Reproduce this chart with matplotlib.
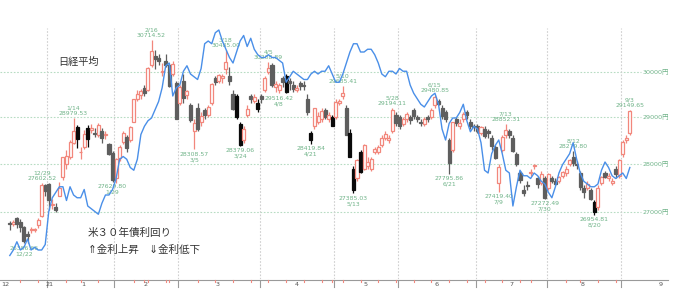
import matplotlib
matplotlib.use("Agg")
import matplotlib.pyplot as plt
import numpy as np

# ---------------- data ----------------
months = ["12", "1", "2", "3", "4", "5", "6", "7", "8", "9"]
month_days = [
    [16, 17, 18, 21, 22, 23, 24, 25, 28, 29, 30],
    [4, 5, 6, 7, 8, 12, 13, 14, 15, 18, 19, 20, 21, 22, 25, 26, 27, 28, 29],
    [1, 2, 3, 4, 5, 8, 9, 10, 12, 15, 16, 17, 18, 19, 22, 24, 25, 26],
    [1, 2, 3, 4, 5, 8, 9, 10, 11, 12, 15, 16, 17, 18, 19, 22, 23, 24, 25, 26, 29, 30, 31],
    [1, 2, 5, 6, 7, 8, 9, 12, 13, 14, 15, 16, 19, 20, 21, 22, 23, 26, 27, 28, 30],
    [6, 7, 10, 11, 12, 13, 14, 17, 18, 19, 20, 21, 24, 25, 26, 27, 28, 31],
    [1, 2, 3, 4, 7, 8, 9, 10, 11, 14, 15, 16, 17, 18, 21, 22, 23, 24, 25, 28, 29, 30],
    [1, 2, 5, 6, 7, 8, 9, 12, 13, 14, 15, 16, 19, 20, 21, 26, 27, 28, 29, 30],
    [2, 3, 4, 5, 6, 10, 11, 12, 13, 16, 17, 18, 19, 20, 23, 24, 25, 26, 27, 30, 31],
    [1, 2, 3],
]

opens = [
    26790, 26760, 26880, 26810, 26700, 26560, 26640, 26640, 26750, 26936, 27560,
    27575, 27151, 27102, 27340, 27720, 28004, 28140, 28442, 28777, 28238, 28350, 28756, 28710, 28654, 28600, 28700, 28600, 28410, 28230,
    27700, 28120, 28460, 28560, 28500, 28900, 29400, 29470, 29640, 29600, 30150, 30350, 30320, 30000, 30250, 30150, 29950, 29750,
    29300, 29800, 29480, 29250, 28700, 29200, 28900, 29150, 29050, 29300, 29850, 29800, 29850, 30050, 29900, 29500, 29450, 28850, 28500, 29050, 29450, 29350, 29300,
    29450, 29600, 30000, 30150, 29650, 29600, 29850, 29900, 29800, 29700, 29600, 29750, 29700, 29400, 28650, 28800, 28900, 28950, 29150, 28950, 29000,
    29000, 29300, 29450, 29200, 28650, 27900, 27700, 28250, 27900, 27950, 27900, 28250, 28250, 28400, 28550, 28500, 28700, 29050,
    29000, 28850, 28950, 29000, 29150, 29000, 28900, 28850, 29000, 29000, 29250, 29350, 29200, 29100, 28500, 28300, 28950, 28800, 28950, 29100, 28900, 28800,
    28800, 28650, 28750, 28700, 28550, 28350, 27600, 28300, 28600, 28700, 28550, 28200, 27800, 27450, 27550, 27800, 27950, 27700, 27600, 27700,
    27500, 27700, 27650, 27650, 27750, 27800, 28000, 28150, 28000, 27800, 27500, 27500, 27450, 27200, 27100, 27600, 27800, 27700, 27600, 27900, 27750,
    28200, 28500, 28650,
]
highs = [
    26820, 26843, 26905, 26860, 26730, 26620, 26710, 26690, 26880, 27602, 27570,
    27602, 27279, 27196, 27624, 28139, 28287, 28503, 28979, 28820, 28349, 28711, 28834, 28846, 28755, 28860, 28768, 28700, 28450, 28280,
    28130, 28400, 28700, 28600, 28800, 29400, 29600, 29620, 29700, 30100, 30714, 30500, 30400, 30200, 30400, 30200, 30250, 29800,
    29700, 29950, 29600, 29300, 28950, 29300, 29100, 29200, 29250, 29750, 29900, 29950, 29950, 30485, 30100, 29600, 29500, 28900, 28800, 29250, 29500, 29500, 29400,
    29500, 29900, 30208, 30200, 29800, 29750, 29900, 29950, 29850, 29800, 29700, 29800, 29800, 29500, 28700, 29200, 29100, 29200, 29200, 29100, 29050,
    29400, 29400, 29685, 29250, 28750, 27950, 28100, 28300, 28420, 28150, 28150, 28350, 28400, 28600, 28700, 28600, 29194, 29100,
    29050, 29000, 29100, 29050, 29200, 29050, 28950, 29000, 29050, 29200, 29480, 29400, 29250, 29150, 28550, 28900, 29000, 28950, 29100, 29150, 28950, 28850,
    28850, 28800, 28800, 28750, 28600, 28400, 28000, 28600, 28852, 28750, 28600, 28250, 27850, 27550, 27650, 27900, 28000, 27750, 27850, 27750,
    27800, 27750, 27700, 27750, 27850, 27950, 28100, 28279, 28050, 27850, 27550, 27650, 27500, 27250, 27550, 27750, 27850, 27800, 27700, 27950, 28100,
    28500, 28600, 29149,
]
lows = [
    26650, 26720, 26680, 26600, 26386, 26380, 26590, 26600, 26690, 26900, 27340,
    27042, 27073, 27002, 27340, 27667, 27899, 28111, 28411, 28339, 28111, 28302, 28358, 28651, 28560, 28560, 28440, 28520, 28180, 27629,
    27600, 28050, 28410, 28250, 28460, 28880, 29350, 29400, 29450, 29580, 30100, 30050, 30150, 29900, 30100, 29650, 29900, 28950,
    29250, 29300, 29400, 28900, 28308, 28700, 28800, 28950, 29000, 29250, 29700, 29750, 29750, 29950, 29700, 29150, 28950, 28379, 28450, 29000, 29300, 29300, 29100,
    29300, 29550, 29950, 29650, 29550, 29516, 29650, 29520, 29600, 29550, 29550, 29600, 29600, 29050, 28419, 28750, 28850, 28900, 28950, 28900, 28800,
    28950, 29250, 29400, 28600, 28140, 27385, 27650, 27800, 27880, 27900, 27850, 28200, 28200, 28350, 28500, 28450, 28650, 28800,
    28750, 28800, 28900, 28850, 28950, 28900, 28800, 28800, 28900, 28950, 29200, 29250, 28950, 28900, 27795, 28250, 28800, 28750, 28900, 28950, 28750, 28700,
    28650, 28600, 28550, 28550, 28300, 28100, 27419, 28250, 28550, 28550, 28250, 27950, 27600, 27330, 27450, 27750, 27900, 27500, 27550, 27272,
    27450, 27600, 27550, 27600, 27700, 27750, 27950, 27950, 27900, 27450, 27300, 27450, 27250, 26954, 27050, 27550, 27700, 27650, 27550, 27700, 27700,
    28150, 28450, 28600,
]
closes = [
    26757, 26806, 26763, 26714, 26436, 26524, 26668, 26656, 26854, 27568, 27444,
    27258, 27158, 27055, 27490, 28139, 28164, 28456, 28698, 28519, 28242, 28633, 28523, 28756, 28631, 28822, 28546, 28635, 28197, 27663,
    28091, 28362, 28646, 28341, 28779, 29388, 29505, 29562, 29520, 30084, 30467, 30292, 30236, 30017, 30156, 29671, 30168, 28966,
    29663, 29408, 29559, 28930, 28864, 28743, 29027, 29036, 29211, 29717, 29766, 29921, 29914, 30216, 29792, 29174, 28995, 28405, 28729, 29176, 29384, 29432, 29178,
    29388, 29854, 30089, 29696, 29730, 29708, 29768, 29538, 29751, 29620, 29642, 29683, 29685, 29100, 28508, 29188, 29020, 29126, 28991, 29053, 28812,
    29331, 29357, 29518, 28608, 28147, 27448, 28084, 27824, 28406, 28044, 28098, 28317, 28364, 28553, 28642, 28549, 29149, 28860,
    28814, 28946, 29058, 28941, 29019, 28963, 28860, 28958, 28948, 29161, 29441, 29291, 29018, 28964, 28010, 28884, 28874, 28875, 29066, 29048, 28812, 28791,
    28707, 28783, 28598, 28643, 28366, 28118, 27940, 28569, 28718, 28608, 28279, 28003, 27652, 27388, 27548, 27833, 27970, 27581, 27782, 27283,
    27781, 27641, 27584, 27728, 27820, 27888, 28070, 28015, 27977, 27523, 27424, 27585, 27281, 27013, 27494, 27732, 27724, 27742, 27641, 27789, 28089,
    28451, 28543, 29128,
]
# US 30-year Treasury yield (%)
us30y = [
    1.68, 1.70, 1.73, 1.70, 1.71, 1.74, 1.70, 1.71, 1.70, 1.70, 1.72,
    1.84, 1.89, 1.91, 1.93, 1.93, 1.88, 1.93, 1.90, 1.89, 1.89, 1.92, 1.86, 1.85, 1.84, 1.83, 1.87, 1.90, 1.90, 1.92,
    1.96, 2.03, 2.04, 2.03, 2.00, 1.99, 2.03, 2.12, 2.15, 2.17, 2.18, 2.21, 2.24, 2.29, 2.37, 2.38, 2.26, 2.29,
    2.30, 2.35, 2.37, 2.34, 2.33, 2.32, 2.36, 2.45, 2.46, 2.45, 2.49, 2.50, 2.46, 2.43, 2.40, 2.38, 2.42, 2.46, 2.48, 2.44, 2.47, 2.43, 2.41,
    2.40, 2.40, 2.41, 2.40, 2.40, 2.39, 2.38, 2.31, 2.33, 2.35, 2.34, 2.33, 2.32, 2.32, 2.34, 2.35, 2.34, 2.35, 2.35, 2.37, 2.34,
    2.31, 2.31, 2.34, 2.38, 2.42, 2.45, 2.45, 2.42, 2.42, 2.43, 2.43, 2.41, 2.38, 2.34, 2.33, 2.35, 2.35, 2.34,
    2.36, 2.35, 2.35, 2.30, 2.27, 2.25, 2.23, 2.22, 2.24, 2.26, 2.27, 2.23, 2.14, 2.10, 2.16, 2.18, 2.18, 2.20, 2.23, 2.17, 2.13, 2.15,
    2.14, 2.09, 1.99, 1.98, 2.05, 2.08, 2.10, 2.05, 1.99, 1.98, 1.86, 1.93, 1.99, 1.97, 1.97, 1.96, 1.98, 1.97, 1.95, 1.94,
    1.91, 1.89, 1.93, 1.98, 2.01, 2.03, 2.05, 2.09, 2.03, 1.98, 1.95, 1.94, 1.93, 1.93, 1.94, 1.99, 2.02, 2.00, 1.97, 1.96, 1.97,
    1.98, 1.96, 2.00,
]
dark_black_days = ["1/15", "1/20", "3/23", "3/24", "3/31", "4/12", "4/21", "4/30",
                   "5/12", "5/13", "5/17", "8/20"]
annotations = [
    ("12/22", "low", "26386.66"),
    ("12/29", "high", "27602.52"), ("1/14", "high", "28979.53"),
    ("1/29", "low", "27629.80"), ("2/16", "high", "30714.52"),
    ("3/5", "low", "28308.57"), ("3/18", "high", "30485.00"),
    ("3/24", "low", "28379.06"), ("4/5", "high", "30208.89"),
    ("4/8", "low", "29516.42"), ("4/21", "low", "28419.84"),
    ("5/10", "high", "29685.41"), ("5/13", "low", "27385.03"),
    ("5/28", "high", "29194.11"), ("6/15", "high", "29480.85"),
    ("6/21", "low", "27795.86"), ("7/9", "low", "27419.40"),
    ("7/13", "high", "28852.31"), ("7/30", "low", "27272.49"),
    ("8/12", "high", "28279.80"), ("8/20", "low", "26954.81"),
    ("9/3", "high", "29149.65"),
]
price_levels = [27000, 28000, 29000, 30000]

# ---------------- layout ----------------
W, H = 688, 292
AX_BOTTOM_PX = 279
fig = plt.figure(figsize=(W / 100, H / 100), dpi=100)
ax = fig.add_axes([0, (H - AX_BOTTOM_PX) / H, 1, AX_BOTTOM_PX / H])
ax.set_facecolor("white")

dates = []
month_start_idx = []
for m, days in zip(months, month_days):
    month_start_idx.append(len(dates))
    dates.extend(f"{m}/{d}" for d in days)
n = len(dates)
xs = np.arange(n)
idx_of = {d: i for i, d in enumerate(dates)}

PX_PER_DAY = 3.543
x0 = 10.5 - 47 / PX_PER_DAY
x1 = x0 + W / PX_PER_DAY
YMIN, YMAX = 25685, 31655
ax.set_xlim(x0, x1)
ax.set_yscale("log")
ax.set_ylim(YMIN, YMAX)
ax.axis("off")

# grid
green_grid = "#b7dcc3"
for lv in price_levels:
    ax.axhline(lv, xmin=0, xmax=641 / W, color=green_grid, lw=0.8, ls=(0, (1.5, 1.5)), zorder=0)
bounds = [s - 0.5 for s in month_start_idx[1:]]
for b in bounds:
    ax.axvline(b, ymin=0, ymax=(AX_BOTTOM_PX - 28) / AX_BOTTOM_PX, color="#cfcfcf",
               lw=0.8, ls=(0, (1.5, 1.5)), zorder=0)

# candles
up_col = "#f2877c"
gray_col = "#5e5e5e"
black_col = "#0a0a0a"
bw = 0.86
for i in range(n):
    o, h, l, c = opens[i], highs[i], lows[i], closes[i]
    if c >= o:
        col = up_col
        face = "white"
    else:
        col = black_col if dates[i] in dark_black_days else gray_col
        face = col
    ax.vlines(i, l, h, color=col, lw=0.9, zorder=2)
    lo, hi = min(o, c), max(o, c)
    if hi - lo < 10:
        hi = lo + 10
    ax.bar(i, hi - lo, bottom=lo, width=bw, facecolor=face, edgecolor=col,
           linewidth=0.9, zorder=3)

# annotations
ann_col = "#6fb388"
for d, kind, val in annotations:
    i = idx_of[d]
    if kind == "high":
        y = highs[i]
        ax.annotate(val, (i, y), xytext=(0, 4.5), textcoords="offset pixels",
                    ha="center", va="center", fontsize=4.4, color=ann_col, zorder=5)
        ax.annotate(d, (i, y), xytext=(0, 10), textcoords="offset pixels",
                    ha="center", va="center", fontsize=4.4, color=ann_col, zorder=5)
    else:
        y = lows[i]
        ax.annotate(val, (i, y), xytext=(0, -5), textcoords="offset pixels",
                    ha="center", va="center", fontsize=4.4, color=ann_col, zorder=5)
        ax.annotate(d, (i, y), xytext=(0, -10.5), textcoords="offset pixels",
                    ha="center", va="center", fontsize=4.4, color=ann_col, zorder=5)

# US 30Y yield line
ax2 = ax.twinx()
ax2.set_xlim(x0, x1)
ax2.set_ylim(2.50 - (AX_BOTTOM_PX - 30) / 275, 2.50 + 30 / 275)
ax2.plot(xs, us30y, color="#4a8fe8", lw=1.0, zorder=6)
ax2.axis("off")


def fx(px):
    return px / W


def fy(py):
    return 1 - py / H


# x axis line & ticks
fig.add_artist(plt.Line2D([fx(0), fx(668)], [fy(279.5), fy(279.5)], color="#9a9a9a", lw=0.8))
for b in bounds:
    px = 47 + (b - 10.5) * PX_PER_DAY
    fig.add_artist(plt.Line2D([fx(px), fx(px)], [fy(280), fy(287)], color="#9a9a9a", lw=0.8))
# weekly red ticks (first trading day after a gap within a month)
for i, d in enumerate(dates):
    if i == 0:
        continue
    m, dd = d.split("/")
    pm, pd_ = dates[i - 1].split("/")
    if pm == m and int(dd) - int(pd_) > 1:
        px = 47 + (i - 10.5) * PX_PER_DAY
        fig.add_artist(plt.Line2D([fx(px), fx(px)], [fy(279.5), fy(281.5)], color="#f08a80", lw=0.8))

label_col = "#555555"
month_label_px = [(5, "12"), (50, "21"), (83, "1"), (146, "2"), (218, "3"), (297, "4"),
                  (365, "5"), (437, "6"), (511, "7"), (583, "8"), (661, "9")]
for px, t in month_label_px:
    fig.text(fx(px), fy(285), t, ha="center", va="center", fontsize=4.6, color=label_col)

# right price labels
for lv in price_levels:
    py = AX_BOTTOM_PX - (np.log(lv) - np.log(YMIN)) / (np.log(YMAX) - np.log(YMIN)) * AX_BOTTOM_PX
    fig.text(fx(643), fy(py), f"{lv}円", ha="left", va="center", fontsize=4.6,
             color=ann_col, family=["DejaVu Sans", "Noto Sans CJK JP"])

# titles
jp = ["Noto Sans CJK JP", "DejaVu Sans"]
fig.text(fx(58), fy(62), "日経平均", ha="left", va="center", fontsize=7.3, color="#333333", family=jp)
fig.text(fx(88), fy(233), "米３０年債利回り", ha="left", va="center", fontsize=7.6, color="#333333", family=jp)
fig.text(fx(88), fy(250), "⇑金利上昇　⇓金利低下", ha="left", va="center", fontsize=7.6,
         color="#333333", family=jp)

fig.savefig("out.png", dpi=100, facecolor="white")
